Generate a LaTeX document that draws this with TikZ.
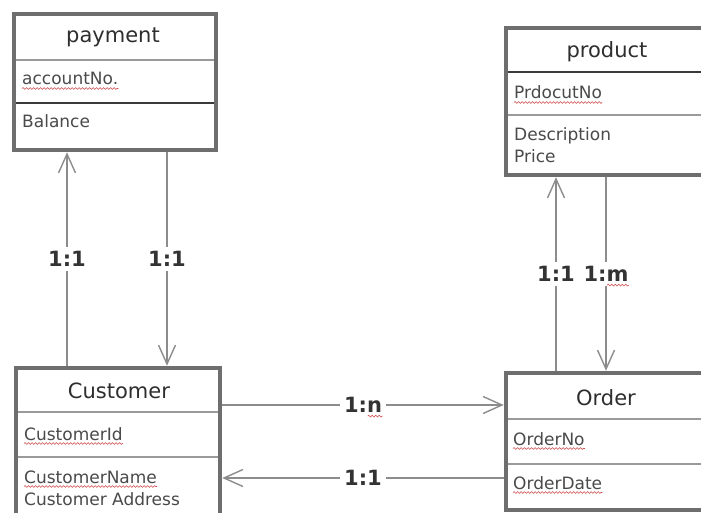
\documentclass[tikz,border=0pt]{standalone}
\usepackage{fontspec}
\setmainfont{DejaVu Sans}
\usetikzlibrary{arrows.meta,decorations.pathmorphing}

\definecolor{boxgray}{HTML}{6E6E6E}
\definecolor{sepgray}{HTML}{9A9A9A}
\definecolor{sepdark}{HTML}{3A3A3A}
\definecolor{relgray}{HTML}{8C8C8C}
\definecolor{titletext}{HTML}{2E2E2E}
\definecolor{attrtext}{HTML}{4A4A4A}
\definecolor{spellred}{HTML}{D04848}

\tikzset{
  entbox/.style={draw=boxgray, line width=4.5pt, rectangle, inner sep=0pt},
  sepline/.style={draw=sepgray, line width=2pt},
  sepblack/.style={draw=sepdark, line width=2pt},
  title/.style={anchor=base, inner sep=0pt, text=titletext, font=\fontsize{21}{25}\selectfont},
  attr/.style={anchor=base west, inner sep=0pt, text=attrtext,
               font=\fontsize{17}{23}\selectfont},
  rel/.style={draw=relgray, line width=1.4pt, -{Straight Barb[length=19pt,width=17pt,line width=1.4pt]}},
  card/.style={fill=white, inner sep=4pt, text=black!80, font=\bfseries\fontsize{21}{25}\selectfont},
  spell/.style={draw=spellred, line width=0.6pt, decorate,
                decoration={snake, segment length=3.5pt, amplitude=0.9pt}},
}

\begin{document}
\begin{tikzpicture}[x=1pt,y=-1pt]
\useasboundingbox (0,0) rectangle (701,513);
\clip (0,0) rectangle (701,513);
\fill[white] (0,0) rectangle (701,513);

% entity boxes
\node[entbox, minimum width=202pt, minimum height=136pt] (pay)  at (115,82) {};
\node[entbox, minimum width=214pt, minimum height=147pt] (prod) at (613,101.5) {};
\node[entbox, minimum width=204pt, minimum height=192pt] (cust) at (118,464) {};
\node[entbox, minimum width=214pt, minimum height=137pt] (ord)  at (613,441.5) {};

% compartment separators, inside the frames
\draw[sepline]  ([xshift=4pt]pay.west |- 0,60)   -- ([xshift=-4pt]pay.east |- 0,60);
\draw[sepblack] ([xshift=4pt]pay.west |- 0,103)  -- ([xshift=-4pt]pay.east |- 0,103);
\draw[sepblack] ([xshift=4pt]prod.west |- 0,72)  -- ([xshift=-4pt]prod.east |- 0,72);
\draw[sepline]  ([xshift=4pt]prod.west |- 0,115) -- ([xshift=-4pt]prod.east |- 0,115);
\draw[sepline]  ([xshift=4pt]cust.west |- 0,412) -- ([xshift=-4pt]cust.east |- 0,412);
\draw[sepline]  ([xshift=4pt]cust.west |- 0,457) -- ([xshift=-4pt]cust.east |- 0,457);
\draw[sepline]  ([xshift=4pt]ord.west |- 0,419)  -- ([xshift=-4pt]ord.east |- 0,419);
\draw[sepline]  ([xshift=4pt]ord.west |- 0,464)  -- ([xshift=-4pt]ord.east |- 0,464);

% titles
\node[title] (payT)  at (113,43)  {payment};
\node[title] (prodT) at (607,58)  {product};
\node[title] (custT) at (119,398) {Customer};
\node[title] (ordT)  at (606,405) {Order};

% attributes
\node[attr] (payA1)  at (22,85)   {accountNo.};
\node[attr] (payA2)  at (22,128)  {Balance};
\node[attr] (prodA1) at (514,99)  {PrdocutNo};
\node[attr] (prodA2) at (514,141) {Description};
\node[attr] (prodA3) at (514,163) {Price};
\node[attr] (custA1) at (24,440)  {CustomerId};
\node[attr] (custA2) at (24,483)  {CustomerName};
\node[attr] (custA3) at (24,505)  {Customer Address};
\node[attr] (ordA1)  at (513,445) {OrderNo};
\node[attr] (ordA2)  at (513,489) {OrderDate};

% spell-check squiggles under the attribute names
\foreach \n in {payA1,prodA1,custA1,custA2,ordA1,ordA2}
  \draw[spell] ([yshift=-3.5pt]\n.base west) -- ([yshift=-3.5pt]\n.base east);

% relationships
\draw[rel] ([xshift=-51pt]cust.north) -- node[card] (c1) {1:1} ([xshift=-51pt]cust.north |- pay.south);
\draw[rel] ([xshift=52pt]pay.south) -- node[card] (c2) {1:1} ([xshift=52pt]pay.south |- cust.north);
\draw[rel] ([xshift=-57pt]ord.north) -- node[card] (c3) {1:1} ([xshift=-57pt]ord.north |- prod.south);
\draw[rel] ([xshift=-7pt]prod.south) -- node[card] (c4) {1:m} ([xshift=-7pt]prod.south |- ord.north);
\draw[rel] ([yshift=59pt]cust.east) -- node[card] (c5) {1:n} ([yshift=59pt]cust.east -| ord.west);
\draw[rel] ([yshift=-36.5pt]ord.west) -- node[card] (c6) {1:1} ([yshift=-36.5pt]ord.west -| cust.east);

% squiggles under the letters m and n
\draw[spell] ([xshift=-26pt,yshift=-3.5pt]c4.base east) -- ([xshift=-4pt,yshift=-3.5pt]c4.base east);
\draw[spell] ([xshift=-19pt,yshift=-3.5pt]c5.base east) -- ([xshift=-4pt,yshift=-3.5pt]c5.base east);
\end{tikzpicture}
\end{document}
